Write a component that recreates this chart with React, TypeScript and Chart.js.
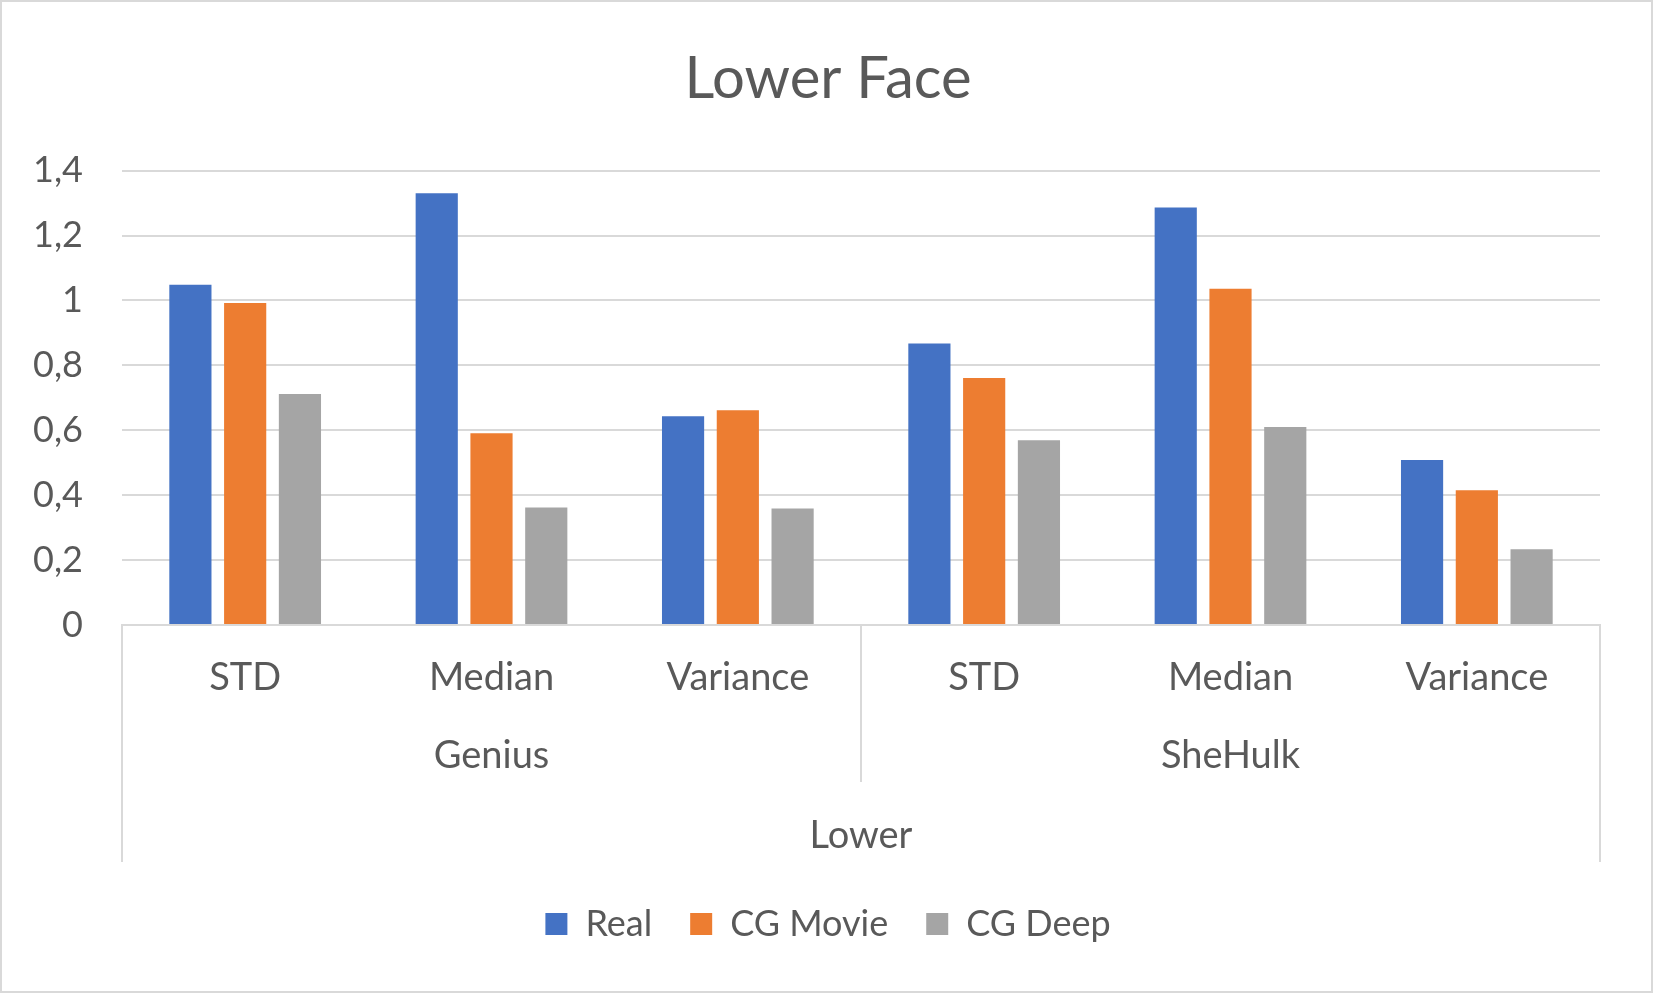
import React, { useEffect, useRef } from 'react';
import { Chart, registerables } from 'chart.js';

Chart.register(...registerables);

const categories = ['STD', 'Median', 'Variance', 'STD', 'Median', 'Variance'];
const groups = ['Genius', 'SheHulk'];
const outerGroup = 'Lower';
const realValues = [1.048, 1.33, 0.643, 0.867, 1.286, 0.508];
const cgMovieValues = [0.992, 0.591, 0.662, 0.761, 1.036, 0.415];
const cgDeepValues = [0.712, 0.362, 0.359, 0.569, 0.61, 0.233];
const yMax = 1.4;
const yStep = 0.2;

const textColor = '#595959';
const lineColor = '#d9d9d9';
const fontFamily = 'Lato, "Open Sans", sans-serif';

// white background and thin frame round the whole chart
const framePlugin = {
  id: 'frame',
  beforeDraw(chart: any) {
    const { ctx, width, height } = chart;
    ctx.save();
    ctx.fillStyle = '#ffffff';
    ctx.fillRect(0, 0, width, height);
    ctx.strokeStyle = lineColor;
    ctx.lineWidth = 2;
    ctx.strokeRect(1, 1, width - 2, height - 2);
    ctx.restore();
  },
};

// second and third level of the category axis (Genius / SheHulk, Lower)
const groupAxisPlugin = {
  id: 'groupAxis',
  afterDraw(chart: any) {
    const { ctx, chartArea } = chart;
    const x = chart.scales.x;
    const base = chartArea.bottom;
    const mid = (x.getPixelForValue(2) + x.getPixelForValue(3)) / 2;
    ctx.save();
    ctx.strokeStyle = lineColor;
    ctx.lineWidth = 2;
    ctx.beginPath();
    ctx.moveTo(chartArea.left, base);
    ctx.lineTo(chartArea.left, base + 237);
    ctx.moveTo(chartArea.right, base);
    ctx.lineTo(chartArea.right, base + 237);
    ctx.moveTo(mid, base);
    ctx.lineTo(mid, base + 157);
    ctx.stroke();

    ctx.fillStyle = textColor;
    ctx.font = `38px ${fontFamily}`;
    ctx.textAlign = 'center';
    ctx.textBaseline = 'middle';
    groups.forEach((g, i) => {
      ctx.fillText(g, x.getPixelForValue(i * 3 + 1), base + 131);
    });
    ctx.fillText(outerGroup, (chartArea.left + chartArea.right) / 2, base + 211);
    ctx.restore();
  },
};

export default function App() {
  const canvasRef = useRef<HTMLCanvasElement | null>(null);

  useEffect(() => {
    document.body.style.margin = '0';
    const ctx = canvasRef.current;
    if (!ctx) return;

    const chart = new Chart(ctx, {
      type: 'bar',
      data: {
        labels: categories,
        datasets: [
          { label: 'Real', data: realValues, backgroundColor: '#4472C4' },
          { label: 'CG Movie', data: cgMovieValues, backgroundColor: '#ED7D31' },
          { label: 'CG Deep', data: cgDeepValues, backgroundColor: '#A5A5A5' },
        ],
      },
      options: {
        animation: false,
        responsive: false,
        devicePixelRatio: 1,
        layout: { padding: { left: 56, right: 53, top: 0, bottom: 41 } },
        datasets: {
          bar: { categoryPercentage: 0.667, barPercentage: 0.77 },
        },
        plugins: {
          title: {
            display: true,
            text: 'Lower Face',
            color: textColor,
            font: { family: fontFamily, size: 58, weight: 'normal' },
            padding: { top: 44, bottom: 57 },
          },
          legend: {
            position: 'bottom',
            labels: {
              color: textColor,
              font: { family: fontFamily, size: 36 },
              boxWidth: 22,
              boxHeight: 22,
              padding: 38,
            },
          },
          tooltip: { enabled: false },
        },
        scales: {
          x: {
            grid: { display: false },
            border: { display: true, color: lineColor, width: 2 },
            ticks: {
              color: textColor,
              font: { family: fontFamily, size: 38 },
              padding: 22,
              maxRotation: 0,
            },
            afterFit(scale: any) {
              scale.height = 243;
            },
          },
          y: {
            min: 0,
            max: yMax,
            ticks: {
              stepSize: yStep,
              color: textColor,
              font: { family: fontFamily, size: 36 },
              padding: 39,
              callback: (v: any) => String(Math.round(Number(v) * 10) / 10).replace('.', ','),
            },
            grid: { color: lineColor, lineWidth: 2, drawTicks: false },
            border: { display: false },
            afterFit(scale: any) {
              scale.width = 66;
              // labels reach a little past the axis box on the left; don't clip them
              scale._computeLabelArea = () => undefined;
            },
          },
        },
      },
      plugins: [framePlugin, groupAxisPlugin],
    });

    return () => {
      chart.destroy();
    };
  }, []);

  return <canvas ref={canvasRef} width={1653} height={993} style={{ display: 'block' }} />;
}
